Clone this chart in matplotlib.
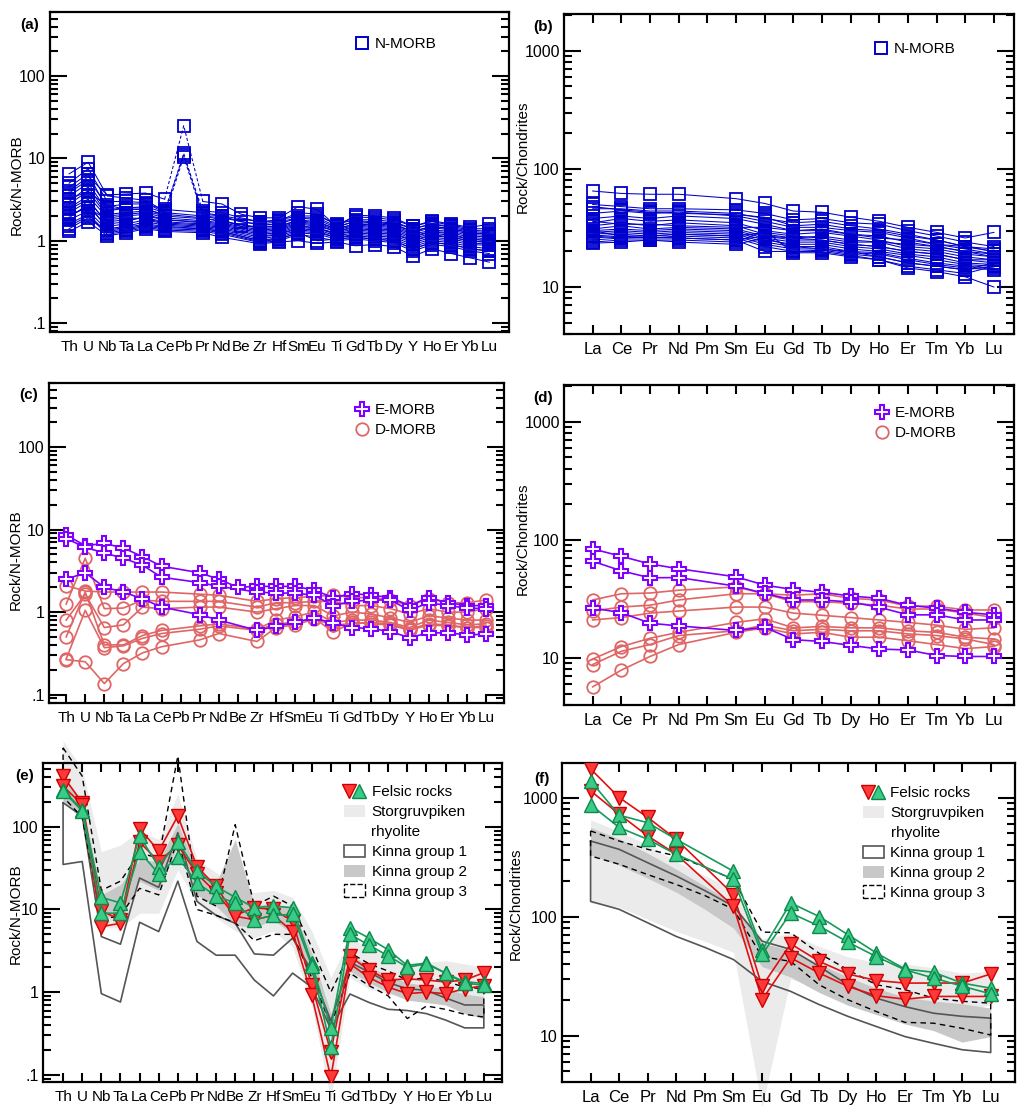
import numpy as np
import matplotlib
matplotlib.use('Agg')
import matplotlib.pyplot as plt
from matplotlib.ticker import FixedLocator, FixedFormatter, LogLocator, NullFormatter
from matplotlib.patches import Patch
from matplotlib.lines import Line2D
from matplotlib.legend_handler import HandlerTuple

plt.rcParams['font.family'] = ['Liberation Sans', 'DejaVu Sans']

N = None
SPIDER = ['Th', 'U', 'Nb', 'Ta', 'La', 'Ce', 'Pb', 'Pr', 'Nd', 'Be', 'Zr', 'Hf', 'Sm',
          'Eu', 'Ti', 'Gd', 'Tb', 'Dy', 'Y', 'Ho', 'Er', 'Yb', 'Lu']
REE = ['La', 'Ce', 'Pr', 'Nd', 'Pm', 'Sm', 'Eu', 'Gd', 'Tb', 'Dy', 'Ho', 'Er', 'Tm', 'Yb', 'Lu']

# ---------------- (a) N-MORB, N-MORB normalised ----------------
nmorb_spider = [
    [4.0, 6.0, 3.6, 3.7, 3.8, 3.2, 25, 3.0, 2.8, 2.1, 1.9, 1.9, 2.6, 2.4, 1.5, 2.05, 2.0, 1.9, 1.5, 1.75, 1.6, 1.45, 1.6],
    [6.5, 9.0, 3.5, 3.3, 3.1, 2.3, 11, 2.3, 2.2, 1.9, 1.7, 1.8, 2.0, 2.0, 1.6, 1.8, 1.8, 1.7, 1.4, 1.6, 1.5, 1.35, 1.3],
    [5.0, 7.5, 3.0, 3.0, 2.9, 2.2, 11.5, 2.1, 2.0, 1.7, 1.6, 1.7, 1.9, 1.9, 1.5, 1.7, 1.65, 1.6, 1.3, 1.5, 1.4, 1.25, 1.2],
    [4.5, 6.5, 2.4, 2.5, 2.5, 2.0, 10.5, 2.0, 1.8, 1.5, 1.5, 1.5, 1.8, 1.7, 1.4, 1.6, 1.55, 1.5, 1.25, 1.45, 1.35, 1.2, 1.15],
    [3.5, 5.0, 2.3, 2.5, 2.6, 2.2, N, 2.0, 1.9, N, 1.55, 1.6, 1.9, 1.8, 1.45, 1.75, 1.7, 1.65, 1.4, 1.6, 1.45, 1.3, 1.25],
    [3.0, 4.5, 2.1, 2.2, 2.3, 2.0, N, 1.85, 1.75, N, 1.4, 1.45, 1.7, 1.6, 1.35, 1.55, 1.5, 1.45, 1.2, 1.35, 1.3, 1.15, 1.1],
    [2.5, 3.5, 1.9, 2.0, 2.1, 1.8, N, 1.7, 1.6, N, 1.3, 1.35, 1.6, 1.5, 1.3, 1.45, 1.4, 1.35, 1.1, 1.3, 1.2, 1.05, 1.0],
    [2.2, 3.0, 1.7, 1.8, 1.9, 1.7, N, 1.6, 1.5, N, 1.2, 1.25, 1.5, 1.45, 1.2, 1.35, 1.3, 1.25, 1.0, 1.2, 1.1, 1.0, 0.95],
    [2.0, 2.6, 1.5, 1.6, 1.8, 1.6, N, 1.5, 1.4, N, 1.1, 1.2, 1.4, 1.35, 1.15, 1.25, 1.2, 1.15, 0.95, 1.1, 1.05, 0.95, 0.9],
    [1.8, 2.3, 1.35, 1.45, 1.6, 1.5, N, 1.4, 1.3, N, 1.0, 1.1, 1.3, 1.25, 1.1, 1.15, 1.1, 1.05, 0.85, 1.0, 0.95, 0.85, 0.8],
    [1.5, 2.0, 1.2, 1.3, 1.45, 1.35, N, 1.3, 1.2, N, 0.95, 1.0, 1.2, 1.1, 1.0, 1.05, 1.0, 0.95, 0.75, 0.9, 0.85, 0.75, 0.7],
    [1.3, 1.7, 1.15, 1.25, 1.4, 1.3, N, 1.25, 1.1, N, 0.92, 0.97, 1.0, 0.93, 0.97, 0.87, 0.9, 0.85, 0.65, 0.8, 0.7, 0.62, 0.55],
    [2.8, 4.0, 2.6, 2.8, 2.8, 2.4, N, 2.2, 2.0, N, 1.7, 1.75, 2.2, 2.1, 1.55, 1.95, 1.9, 1.8, 1.5, 1.7, 1.55, 1.4, 1.4],
    [2.4, 3.2, 1.6, 1.7, 2.0, 1.8, N, 1.65, 1.55, N, 1.25, 1.3, 1.55, 1.4, 1.25, 1.4, 1.35, 1.3, 1.05, 1.25, 1.15, 1.05, 1.0],
    [1.9, 2.8, 1.4, 1.5, 1.7, 1.55, N, 1.45, 1.35, N, 1.05, 1.15, 1.35, 1.3, 1.1, 1.2, 1.15, 1.1, 0.9, 1.05, 1.0, 0.9, 0.88],
    [3.2, 4.0, 2.0, 2.1, 2.2, 1.9, N, 1.75, 1.65, N, 1.35, 1.4, 1.65, 1.55, 1.3, 1.5, 1.45, 1.4, 1.15, 1.3, 1.25, 1.1, 1.05],
    [1.6, 2.1, 1.25, 1.35, 1.5, 1.4, N, 1.35, 1.25, N, 0.97, 1.05, 1.25, 1.0, 1.05, 1.1, 1.05, 1.0, 0.8, 0.95, 0.9, 0.8, 0.75],
    [3.8, 5.5, 2.7, 2.4, 2.4, 2.1, N, 1.9, 1.7, N, 1.45, 1.5, 1.75, 1.65, 1.4, 1.6, 1.6, 1.55, 1.3, 1.5, 1.4, 1.25, 1.2],
    [2.1, 2.5, 1.8, 1.9, 1.85, 1.65, N, 1.55, 1.45, N, 1.15, 1.2, 1.45, 1.4, 1.2, 1.3, 1.25, 1.2, 1.0, 1.15, 1.1, 1.0, 0.95],
    [1.4, 1.9, 1.3, 1.4, 1.55, 1.45, N, 1.4, 1.3, N, 1.0, 1.05, 1.25, 1.2, 1.05, 1.1, 1.05, 1.0, 0.8, 0.95, 0.9, 0.8, 0.75],
]

# ---------------- (b) N-MORB, chondrite normalised ----------------
nmorb_ree = [
    [65, 62, 61, 61, N, 56, 51, 44, 43, 39, 36, 32, 29, 26, 29],
    [50, 48, 46, 46, N, 45, 42, 37, 38, 35, 34, 30, 27, 24, 22],
    [46, 46, 44, 44, N, 42, 38, 35, 36, 33, 31, 28, 25, 22, 20],
    [42, 44, 42, 43, N, 40, 36, 32, 32, 30, 29, 26, 23, 21, 19],
    [38, 40, 38, 40, N, 38, 34, 30, 31, 28, 27, 24, 22, 20, 18],
    [35, 38, 36, 37, N, 35, 30, 28, 29, 27, 25, 22, 21, 19, 18],
    [33, 35, 33, 35, N, 33, 28, 26, 27, 25, 24, 21, 20, 18, 17],
    [31, 33, 31, 32, N, 31, 27, 25, 25, 23, 22, 20, 19, 17, 16],
    [30, 31, 30, 31, N, 30, 26, 24, 24, 22, 21, 19, 18, 16, 15.5],
    [29, 30, 29, 30, N, 29, 25, 23, 23, 21, 20, 18.5, 17, 15.5, 15],
    [28, 29, 28, 29, N, 28, 24, 22, 22, 20, 19.5, 17.5, 16, 15, 14.5],
    [27, 28, 27, 28, N, 27, 23, 21, 21, 19.5, 19, 17, 15.5, 14.5, 14],
    [26, 27, 26, 27, N, 26, 22, 20, 20.5, 19, 18, 16, 15, 14, 15],
    [25, 26, 26, 26, N, 25, 20, 20, 20, 18.5, 17, 15, 14, 13, 15],
    [24, 25, 25, 25, N, 24, 30, 19.5, 19.5, 18, 17, 14.5, 13.5, 12.2, 10],
    [23.5, 24, 25, 24, N, 23, 26, 22, 21, 20, 18, 16, 15, 14, 16],
    [36, 34, 34, 33, N, 32, 32, 30, 30, 28, 26, 25, 23, 22, 20],
    [30, 27, 27, 28, N, 27, 29, 27, 26, 24, 24, 23, 22, 20, 19],
    [48, 45, 43, 42, N, 41, 39, 33, 34, 31, 30, 27, 25, 22, 21],
    [27, 26, 26.5, 26, N, 25, 27, 26, 25, 23, 22, 20, 19, 17, 17],
]

# ---------------- (c) E-/D-MORB, N-MORB normalised ----------------
emorb_spider = [
    [8.6, 6.4, 6.8, 6.0, 4.7, 3.6, N, 3.0, 2.5, 2.0, 2.05, 2.05, 2.05, 1.85, 1.5, 1.68, 1.6, 1.5, 1.2, 1.5, 1.3, 1.2, 1.2],
    [7.8, 6.1, 5.2, 4.5, 3.7, 2.65, N, 2.28, 2.05, N, 1.75, 1.7, 1.7, 1.6, 1.2, 1.35, 1.4, 1.4, 1.05, 1.3, 1.2, 1.12, 1.1],
    [2.5, 3.0, 2.0, 1.75, 1.45, 1.15, N, 0.93, 0.8, N, 0.6, 0.67, 0.75, 0.85, 0.73, 0.65, 0.63, 0.58, 0.49, 0.56, 0.56, 0.53, 0.54],
]
dmorb_spider = [
    [2.1, 1.8, 1.75, 1.75, 1.75, 1.75, N, 1.65, 1.6, N, 1.35, 1.45, 1.5, 1.55, 1.6, 1.5, 1.5, 1.4, 1.2, 1.45, 1.3, 1.3, 1.4],
    [1.25, 4.5, 1.1, 1.12, 1.4, 1.35, N, 1.35, 1.35, N, 1.15, 1.3, 1.3, 1.35, 1.35, 1.2, 1.2, 1.1, 0.95, 1.1, 1.0, 1.0, 1.1],
    [0.8, 1.65, 0.65, 0.7, 1.15, 1.1, N, 1.15, 1.15, N, 1.0, 1.1, 1.2, 1.2, 0.9, 1.0, 0.95, 0.85, 0.75, 0.9, 0.85, 0.8, 0.8],
    [0.5, 1.75, 0.4, 0.4, 0.52, 0.6, N, 0.68, 0.72, N, 0.62, 0.8, 0.88, 1.0, 0.75, 0.8, 0.8, 0.75, 0.65, 0.8, 0.75, 0.7, 0.72],
    [0.27, 1.05, 0.37, 0.39, 0.48, 0.55, N, 0.62, 0.68, N, 0.6, 0.72, 0.75, 0.85, 0.57, 0.75, 0.72, 0.7, 0.6, 0.7, 0.68, 0.65, 0.68],
    [0.265, 0.25, 0.136, 0.237, 0.32, 0.38, N, 0.46, 0.55, N, 0.44, 0.65, 0.7, 0.82, 0.7, 0.72, 0.75, 0.72, 0.62, 0.72, 0.7, 0.65, 0.65],
]

# ---------------- (d) E-/D-MORB, chondrite normalised ----------------
emorb_ree = [
    [84, 72.6, 62.6, 57, N, 48.7, 41.4, 38, 36, 33.5, 32, 27.9, 26.5, 24.4, 23.2],
    [66, 54.7, 47.8, 48, N, 40.6, 35.2, 31, 31, 29.8, 26.9, 23.2, 23.2, 21, 21],
    [26.5, 24.2, 19.7, 18.7, N, 17.1, 18.2, 14.3, 13.8, 12.8, 11.9, 11.7, 10.5, 10.3, 10.3],
]
dmorb_ree = [
    [31, 35, 35.5, 37.5, N, 40, 35, 34, 35, 32, 31, 27.5, 27.5, 25.5, 25.5],
    [25, 27, 28, 31, N, 35, 35, 30, 30, 29, 28, 26, 26, 24, 22],
    [21, 22, 24, 25, N, 27, 27, 24, 23, 22, 21, 20, 19, 17.5, 18],
    [9.8, 12.5, 14.7, 16.5, N, 20, 21.5, 18, 18.5, 18, 18, 17, 16.5, 15, 14.5],
    [8.8, 11.4, 13, 15.5, N, 17, 19, 17, 17.5, 17, 17, 16, 15.5, 14.5, 13],
    [5.7, 7.9, 10.3, 13, N, 16.5, 18, 16, 16.5, 15, 15, 14, 13, 12, 12.5],
]

# ---------------- (e) felsic rocks, N-MORB normalised ----------------
felsic_red_spider = [
    [410, 195, 9.6, 7.5, 95, 51, 135, 33, 19, 8.5, 10.5, 10, 7.2, 1.22, 0.19, 2.7, 1.85, 1.4, 1.45, 1.4, 1.33, 1.4, 1.72],
    [310, 185, 6.2, 6.8, 65, 38, 60, 27, 16, 8.3, 7.5, 8.5, 5.4, 0.92, 0.093, 2.2, 1.5, 1.15, 0.96, 1.0, 0.96, 1.1, 1.2],
]
felsic_green_spider = [
    [280, 160, 14, 12, 77, 33, 66, 29, 19, 14, 10.5, 11, 10.5, 2.25, 0.37, 6.0, 4.5, 3.25, 2.1, 2.25, 1.7, 1.33, 1.28],
    [270, 155, 9, 9, 50, 27, 43, 21, 14.5, 12, 7.5, 8.5, 8.7, 2.1, 0.215, 5.0, 3.7, 2.75, 2.0, 2.2, 1.7, 1.28, 1.22],
]
storg_spider_hi = [1100, 500, 50, 60, 90, 70, 250, 40, 28, 18, 16, 17, 14, 5.5, 1.5, 4.5, 3.5, 2.8, 2.3, 2.3, 2.4, 2.2, 2.0]
storg_spider_lo = [200, 120, 6, 6, 9, 9, 30, 12, 8, 5.5, 4.5, 5.5, 3.5, 0.7, 0.05, 1.5, 1.1, 0.95, 0.85, 0.85, 0.8, 0.75, 0.75]
kinna1_spider_hi = [195, 135, 4.7, 3.8, 24, 18.5, 85, 12.5, 8.5, 6.8, 2.9, 2.8, 4.5, 1.8, 0.45, 2.3, 1.75, 1.3, 1.1, 1.05, 0.85, 0.7, 0.7]
kinna1_spider_lo = [35, 38, 0.96, 0.76, 7.0, 5.4, 22, 4.1, 2.8, 2.8, 1.4, 0.9, 1.7, 1.15, 0.36, 0.95, 0.75, 0.62, 0.6, 0.55, 0.46, 0.37, 0.37]
kinna2_spider_hi = [400, 210, 15, 20, 40, 38, 110, 30, 21, 70, 11, 12, 10, 3.0, 0.55, 3.0, 2.0, 1.6, 1.3, 1.2, 1.1, 0.95, 0.88]
kinna2_spider_lo = [200, 140, 8.5, 7.4, 22, 17, 60, 15, 11, 6.5, 6, 7.5, 5.0, 1.5, 0.3, 1.8, 1.3, 1.0, 0.8, 0.75, 0.7, 0.55, 0.48]
kinna3_spider_hi = [900, 410, 17, 22, 48, 42, 720, 14.5, 11, 106, 11, 14.5, 11, 3.5, 1.0, 3.0, 2.2, 1.8, 1.4, 1.5, 1.35, 1.15, 1.1]
kinna3_spider_lo = [230, 130, 7.5, 8.5, 18, 15, 70, 10, 8.5, 6.9, 4.2, 5.0, 5.0, 1.5, 0.4, 1.7, 1.2, 0.9, 0.48, 0.68, 0.62, 0.54, 0.5]

# ---------------- (f) felsic rocks, chondrite normalised ----------------
felsic_red_ree = [
    [1740, 1000, 680, 445, N, 153, 25.9, 59, 42, 32.9, 29, 27.6, 27.6, 27.6, 32.9],
    [1140, 725, 475, 333, N, 122, 20, 45, 33.5, 25.9, 21.6, 20.2, 21.3, 21.3, 21.3],
]
felsic_green_ree = [
    [1380, 710, 614, 445, N, 240, 52, 130, 100, 70.5, 49.4, 36.2, 34, 27.6, 25],
    [870, 560, 445, 333, N, 205, 48, 107, 83, 61, 46, 35.7, 30.4, 26, 22.4],
]
storg_ree_hi = [650, 520, 400, 290, 220, 170, 65, 72, 56, 46, 41, 40, 37, 33.5, 34.5]
storg_ree_lo = [130, 120, 95, 75, 62, 50, 2.5, 30, 25, 21, 19.5, 18.5, 17.5, 16.5, 18]
kinna1_ree_hi = [431, 367, 283, 219, 165, 122, 62, 53, 38, 26.7, 20.6, 17.5, 15.4, 14.5, 14]
kinna1_ree_lo = [134, 115, 88.5, 68, 55, 43.5, 28.5, 23.5, 18.2, 14.5, 11.9, 9.8, 8.6, 7.6, 7.2]
kinna2_ree_hi = [560, 450, 340, 250, 180, 130, 60, 52, 40, 31, 25, 21, 19.5, 18.5, 17]
kinna2_ree_lo = [330, 270, 210, 160, 115, 80, 38, 31, 23, 18, 15, 12.5, 11, 8.8, 9.8]
kinna3_ree_hi = [524, 431, 367, 323, 260, 205, 74, 73, 49, 35.7, 26.7, 24.3, 20.6, 19.4, 18.7]
kinna3_ree_lo = [323, 275, 225, 186, 150, 115, 46, 42, 26.7, 20, 15.9, 12.9, 12.7, 11.5, 10.1]

# ---------------- styling ----------------
BLUE = '#0000CC'
PURPLE = '#8000FF'
SALMON = '#E06666'
RED_F, RED_E, RED_L = '#FF3838', '#CC0000', '#E01010'
GRN_F, GRN_E, GRN_L = '#3CCB86', '#0B8A4C', '#169A58'
LIGHT = '#EBEBEB'
MID = '#C8C8C8'
K1 = '#555555'
YFS, LFS = 11.5, 11
XFS_SPIDER, XFS_REE = 11, 12

W, H = 1017, 1109
fig = plt.figure(figsize=(W / 100, H / 100), dpi=100)


def px_axes(l, t, r, b):
    return fig.add_axes([l / W, 1 - b / H, (r - l) / W, (b - t) / H])


def arr(row):
    return np.array([np.nan if v is None else v for v in row], float)


def draw_series(ax, rows, color, lw, mk, ms, mfc, mec, mew, dash_idx=None, z=3):
    for row in rows:
        y = arr(row)
        x = np.arange(len(y))
        if dash_idx is not None and not np.isnan(y[dash_idx]):
            seg1 = [i for i in range(0, dash_idx) if not np.isnan(y[i])]
            seg2 = [i for i in range(dash_idx + 1, len(y)) if not np.isnan(y[i])]
            ax.plot(x[seg1], y[seg1], color=color, lw=lw, zorder=z)
            ax.plot(x[seg2], y[seg2], color=color, lw=lw, zorder=z)
            sd = [seg1[-1], dash_idx, seg2[0]]
            ax.plot(x[sd], y[sd], color=color, lw=lw, ls=(0, (3, 2)), zorder=z)
        else:
            ok = ~np.isnan(y)
            ax.plot(x[ok], y[ok], color=color, lw=lw, zorder=z)
    for row in rows:
        y = arr(row)
        x = np.arange(len(y))
        ok = ~np.isnan(y)
        ax.plot(x[ok], y[ok], ls='none', marker=mk, ms=ms, mfc=mfc, mec=mec, mew=mew, zorder=z + 1)


def style(ax, labels, xlim, ylim, yt, ytl, xtop, xbot, xfs):
    ax.set_yscale('log')
    ax.set_xlim(*xlim)
    ax.set_ylim(*ylim)
    ax.set_xticks(range(len(labels)))
    ax.set_xticklabels(labels)
    ax.yaxis.set_major_locator(FixedLocator(yt))
    ax.yaxis.set_major_formatter(FixedFormatter(ytl))
    ax.yaxis.set_minor_locator(LogLocator(base=10, subs=np.arange(2, 10), numticks=30))
    ax.yaxis.set_minor_formatter(NullFormatter())
    ax.tick_params(axis='y', which='major', direction='in', length=12, width=1.5,
                   left=True, right=True, labelsize=YFS, pad=3)
    ax.tick_params(axis='y', which='minor', direction='in', length=6, width=1.5,
                   left=True, right=True)
    ax.tick_params(axis='x', which='both', direction='in', length=6.5, width=1.5,
                   top=xtop, bottom=xbot, labelsize=xfs, pad=5.5)
    for s in ax.spines.values():
        s.set_linewidth(1.6)


def panel_label(ax, txt, dx, dy):
    ax.annotate(txt, xy=(0, 1), xycoords='axes fraction', xytext=(dx * 0.72, -dy * 0.72),
                textcoords='offset points', ha='left', va='center', fontsize=11, fontweight='bold')


def legend_at(ax, handles, labels, left_px, top_px, **kw):
    opts = dict(loc='upper left', bbox_to_anchor=(left_px / W, 1 - top_px / H),
                bbox_transform=fig.transFigure, frameon=False, fontsize=LFS,
                borderpad=0, borderaxespad=0, handletextpad=0.35, labelspacing=0.42,
                handlelength=1.0)
    opts.update(kw)
    return ax.legend(handles, labels, **opts)


NM_YT, NM_YTL = [0.1, 1, 10, 100], ['.1', '1', '10', '100']
CH_YT, CH_YTL = [10, 100, 1000], ['10', '100', '1000']

# (a)
axa = px_axes(50, 12, 509, 332)
draw_series(axa, nmorb_spider, BLUE, 0.75, 's', 8, 'none', BLUE, 1.3, dash_idx=6)
style(axa, SPIDER, (-1.0, 23.03), (0.078, 600), NM_YT, NM_YTL, False, False, XFS_SPIDER)
axa.set_ylabel('Rock/N-MORB', fontsize=11)
axa.yaxis.set_label_coords(-0.058, 0.46)
panel_label(axa, '(a)', -30, 13)
legend_at(axa, [Line2D([], [], ls='none', marker='s', ms=8, mfc='none', mec=BLUE, mew=1.4)],
          ['N-MORB'], 354, 37)

# (b)
axb = px_axes(564, 14, 1014, 334)
draw_series(axb, nmorb_ree, BLUE, 0.75, 's', 8, 'none', BLUE, 1.3)
style(axb, REE, (-1.0, 14.7), (4.0, 2050), CH_YT, CH_YTL, True, True, XFS_REE)
axb.set_ylabel('Rock/Chondrites', fontsize=11)
axb.yaxis.set_label_coords(-0.076, 0.553)
panel_label(axb, '(b)', -31, 13)
legend_at(axb, [Line2D([], [], ls='none', marker='s', ms=8, mfc='none', mec=BLUE, mew=1.4)],
          ['N-MORB'], 873, 42)

# (c)
axc = px_axes(49, 383, 504, 703)
draw_series(axc, dmorb_spider, SALMON, 1.2, 'o', 9, 'none', SALMON, 1.3)
draw_series(axc, emorb_spider, PURPLE, 1.2, 'P', 9.5, 'white', PURPLE, 1.5, z=5)
style(axc, SPIDER, (-0.9, 22.95), (0.079, 600), NM_YT, NM_YTL, False, True, XFS_SPIDER)
axc.set_ylabel('Rock/N-MORB', fontsize=11)
axc.yaxis.set_label_coords(-0.057, 0.447)
panel_label(axc, '(c)', -30, 12)
legend_at(axc, [Line2D([], [], ls='none', marker='P', ms=9.5, mfc='white', mec=PURPLE, mew=1.5),
                Line2D([], [], ls='none', marker='o', ms=9, mfc='none', mec=SALMON, mew=1.3)],
          ['E-MORB', 'D-MORB'], 354, 403)

# (d)
axd = px_axes(564, 385, 1014, 705)
draw_series(axd, dmorb_ree, SALMON, 1.2, 'o', 9, 'none', SALMON, 1.3)
draw_series(axd, emorb_ree, PURPLE, 1.2, 'P', 9.5, 'white', PURPLE, 1.5, z=5)
style(axd, REE, (-1.0, 14.7), (4.0, 2050), CH_YT, CH_YTL, True, True, XFS_REE)
axd.set_ylabel('Rock/Chondrites', fontsize=11)
axd.yaxis.set_label_coords(-0.076, 0.52)
panel_label(axd, '(d)', -31, 13)
legend_at(axd, [Line2D([], [], ls='none', marker='P', ms=9.5, mfc='white', mec=PURPLE, mew=1.5),
                Line2D([], [], ls='none', marker='o', ms=9, mfc='none', mec=SALMON, mew=1.3)],
          ['E-MORB', 'D-MORB'], 874, 406)


def bands(ax, n, s_hi, s_lo, k1_hi, k1_lo, k2_hi, k2_lo, k3_hi, k3_lo):
    x = np.arange(n)
    pc = ax.fill_between(x, s_lo, s_hi, color=LIGHT, lw=0, zorder=1)
    pc.set_clip_on(False)
    pc = ax.fill_between(x, k2_lo, k2_hi, color=MID, lw=0, zorder=1.1)
    pc.set_clip_on(False)
    xs = np.concatenate([x, x[::-1], x[:1]])
    ys1 = np.concatenate([k1_hi, k1_lo[::-1], k1_hi[:1]])
    ax.plot(xs, ys1, color=K1, lw=1.2, zorder=1.2, clip_on=False)
    ys3 = np.concatenate([k3_hi, k3_lo[::-1], k3_hi[:1]])
    ax.plot(xs, ys3, color='black', lw=1.0, ls=(0, (4, 3)), zorder=1.3, clip_on=False)


def felsic_legend(ax, left, top):
    hr = Line2D([], [], ls='none', marker='v', ms=10, mfc=RED_F, mec=RED_E, mew=1.0)
    hg = Line2D([], [], ls='none', marker='^', ms=10, mfc=GRN_F, mec=GRN_E, mew=1.0)
    handles = [(hr, hg), Patch(facecolor=LIGHT, edgecolor='none'),
               Patch(facecolor='none', edgecolor='none'),
               Patch(facecolor='white', edgecolor=K1, lw=1.2),
               Patch(facecolor=MID, edgecolor='none'),
               Patch(facecolor='white', edgecolor='black', lw=1.0, ls='--')]
    labels = ['Felsic rocks', 'Storgruvpiken', 'rhyolite', 'Kinna group 1', 'Kinna group 2', 'Kinna group 3']
    legend_at(ax, handles, labels, left, top, handlelength=1.35, handleheight=0.85,
              handletextpad=0.45, labelspacing=0.36,
              handler_map={tuple: HandlerTuple(ndivide=None, pad=0.0)})


# (e)
axe = px_axes(43, 763, 502, 1082)
bands(axe, len(SPIDER), storg_spider_hi, storg_spider_lo, kinna1_spider_hi, kinna1_spider_lo,
      kinna2_spider_hi, kinna2_spider_lo, kinna3_spider_hi, kinna3_spider_lo)
draw_series(axe, felsic_red_spider, RED_L, 1.2, 'v', 10, RED_F, RED_E, 1.0, z=3)
draw_series(axe, felsic_green_spider, GRN_L, 1.2, '^', 10, GRN_F, GRN_E, 1.0, z=5)
style(axe, SPIDER, (-1.05, 22.95), (0.082, 590), NM_YT, NM_YTL, True, True, XFS_SPIDER)
axe.set_ylabel('Rock/N-MORB', fontsize=11)
axe.yaxis.set_label_coords(-0.044, 0.527)
panel_label(axe, '(e)', -28, 13)
felsic_legend(axe, 344, 785)

# (f)
axf = px_axes(562, 763, 1015, 1082)
bands(axf, len(REE), storg_ree_hi, storg_ree_lo, kinna1_ree_hi, kinna1_ree_lo,
      kinna2_ree_hi, kinna2_ree_lo, kinna3_ree_hi, kinna3_ree_lo)
draw_series(axf, felsic_red_ree, RED_L, 1.2, 'v', 10, RED_F, RED_E, 1.0, z=3)
draw_series(axf, felsic_green_ree, GRN_L, 1.2, '^', 10, GRN_F, GRN_E, 1.0, z=5)
style(axf, REE, (-1.0, 14.85), (4.07, 1950), CH_YT, CH_YTL, True, True, XFS_REE)
axf.set_ylabel('Rock/Chondrites', fontsize=11)
axf.yaxis.set_label_coords(-0.086, 0.56)
panel_label(axf, '(f)', -28, 16)
felsic_legend(axf, 863, 786)

fig.savefig('out.png', dpi=100)
